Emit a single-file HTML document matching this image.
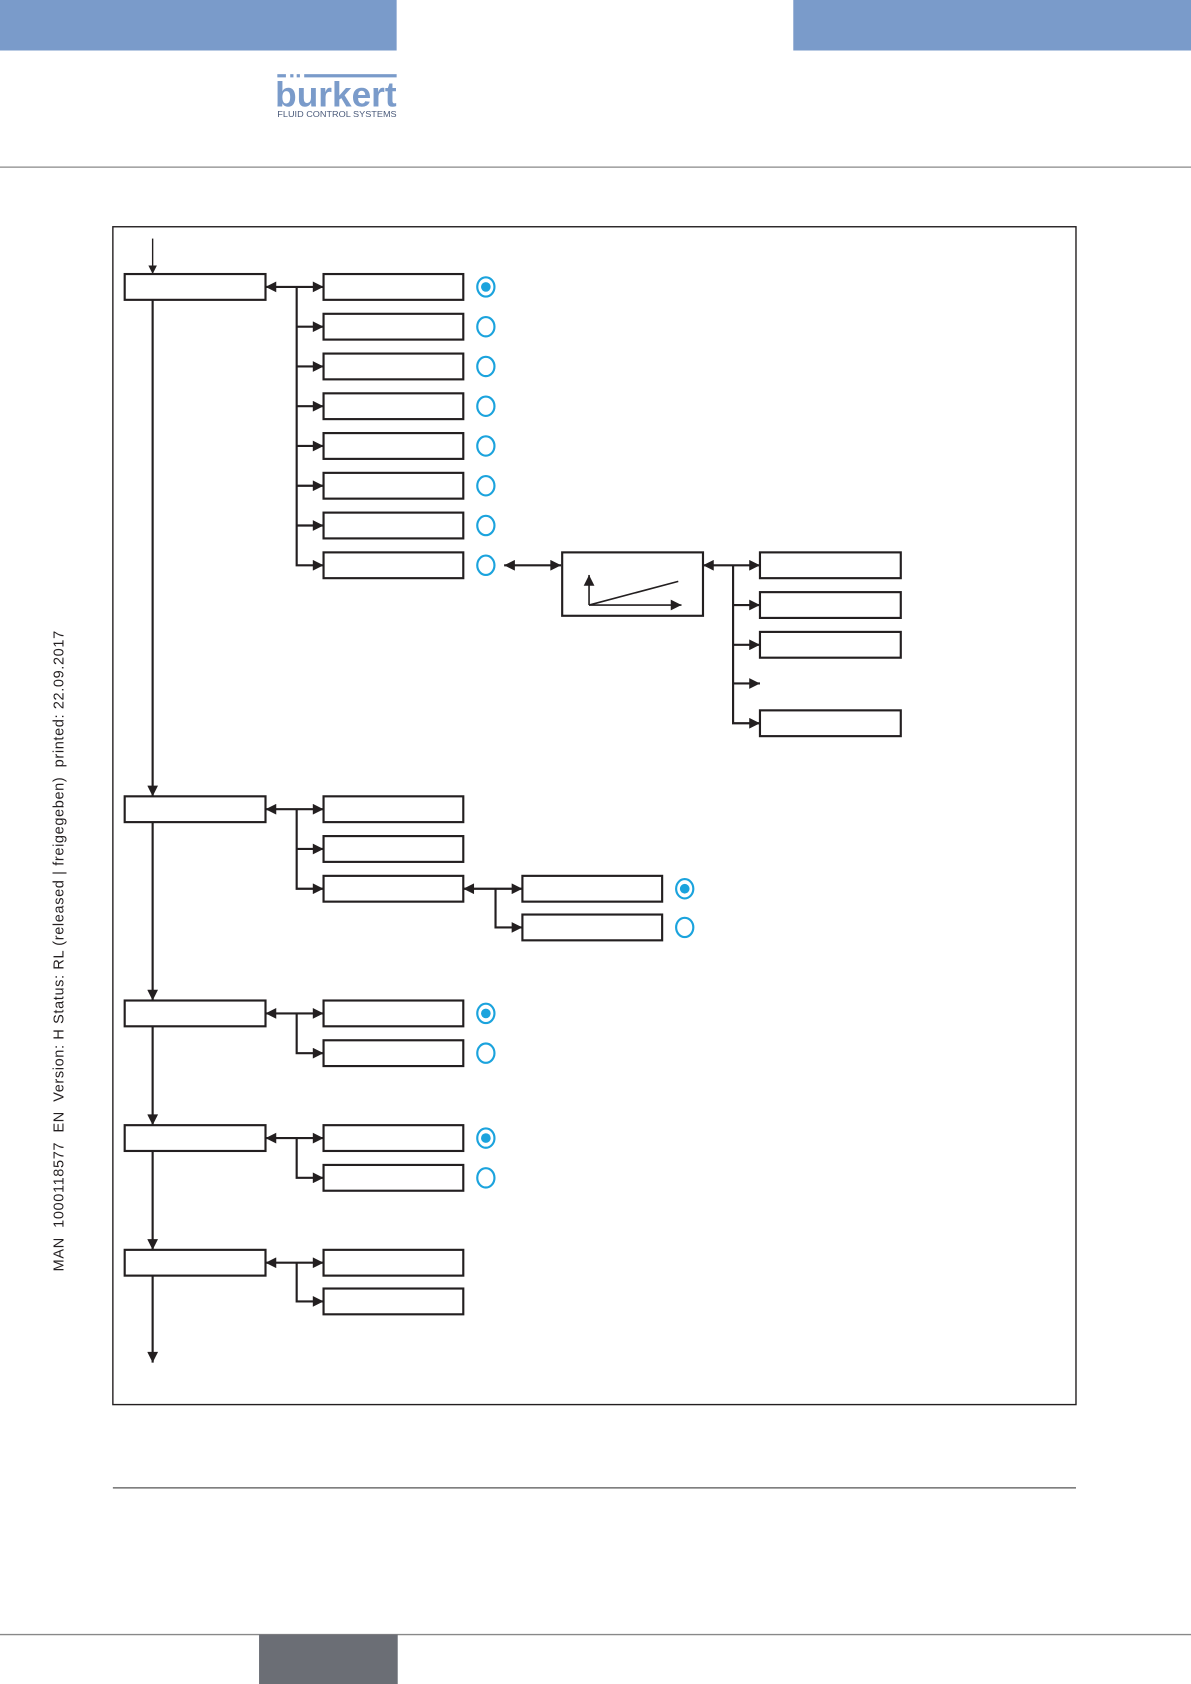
<!DOCTYPE html>
<html><head><meta charset="utf-8"><style>
html,body{margin:0;padding:0;background:#fff}
svg{display:block}
</style></head><body>
<svg width="1191" height="1684" viewBox="0 0 1108 1567" preserveAspectRatio="none" xmlns="http://www.w3.org/2000/svg">
<defs>
<marker id="a" viewBox="0 0 10 10" refX="10" refY="5" markerWidth="8" markerHeight="14" markerUnits="userSpaceOnUse" orient="auto"><path d="M0,0L10,5L0,10z" fill="#231f20"/></marker>
<marker id="b" viewBox="0 0 10 10" refX="10" refY="5" markerWidth="13" markerHeight="10" markerUnits="userSpaceOnUse" orient="auto-start-reverse"><path d="M0,0L10,5L0,10z" fill="#231f20"/></marker>
</defs>
<rect x="0" y="0" width="369" height="47" fill="#7a9bca"/>
<rect x="738" y="0" width="370" height="47" fill="#7a9bca"/>
<rect x="258" y="69" width="8" height="3" fill="#7a9bca"/><rect x="270" y="69" width="3" height="3" fill="#7a9bca"/><rect x="276" y="69" width="3" height="3" fill="#7a9bca"/><rect x="283" y="69" width="86" height="3" fill="#7a9bca"/>
<text x="256" y="99" font-family="Liberation Sans, sans-serif" font-size="33" font-weight="bold" fill="#7a9bca" textLength="113" lengthAdjust="spacingAndGlyphs">burkert</text>
<text x="258" y="109" font-family="Liberation Sans, sans-serif" font-size="7.5" fill="#4a5a7a" textLength="111" lengthAdjust="spacingAndGlyphs">FLUID CONTROL SYSTEMS</text>
<line x1="0" y1="155.5" x2="1108" y2="155.5" stroke="#888" stroke-width="1.2"/>
<rect x="105" y="211" width="896" height="1096" fill="none" stroke="#231f20" stroke-width="1.3"/>
<text transform="translate(59,885) rotate(-90)" text-anchor="middle" font-family="Liberation Sans, sans-serif" font-size="13.5" fill="#231f20" xml:space="preserve" textLength="596" lengthAdjust="spacing">MAN  1000118577  EN  Version: H Status: RL (released | freigegeben)  printed: 22.09.2017</text>
<g stroke="#231f20" stroke-width="2" fill="none">
<line x1="142" y1="222" x2="142" y2="255" stroke-width="1.3" marker-end="url(#a)"/>
<line x1="142" y1="279" x2="142" y2="741" marker-end="url(#b)"/>
<line x1="142" y1="765" x2="142" y2="931" marker-end="url(#b)"/>
<line x1="142" y1="955" x2="142" y2="1047" marker-end="url(#b)"/>
<line x1="142" y1="1071" x2="142" y2="1163" marker-end="url(#b)"/>
<line x1="142" y1="1187" x2="142" y2="1268" marker-end="url(#b)"/>
<rect x="116" y="255" width="131" height="24"/>
<rect x="116" y="741" width="131" height="24"/>
<rect x="116" y="931" width="131" height="24"/>
<rect x="116" y="1047" width="131" height="24"/>
<rect x="116" y="1163" width="131" height="24"/>
<line x1="247" y1="267" x2="301" y2="267" marker-start="url(#b)" marker-end="url(#b)"/>
<polyline points="276,267 276,526 301,526" marker-end="url(#b)"/>
<line x1="276" y1="304" x2="301" y2="304" marker-end="url(#b)"/>
<line x1="276" y1="341" x2="301" y2="341" marker-end="url(#b)"/>
<line x1="276" y1="378" x2="301" y2="378" marker-end="url(#b)"/>
<line x1="276" y1="415" x2="301" y2="415" marker-end="url(#b)"/>
<line x1="276" y1="452" x2="301" y2="452" marker-end="url(#b)"/>
<line x1="276" y1="489" x2="301" y2="489" marker-end="url(#b)"/>
<rect x="301" y="255" width="130" height="24"/>
<rect x="301" y="292" width="130" height="24"/>
<rect x="301" y="329" width="130" height="24"/>
<rect x="301" y="366" width="130" height="24"/>
<rect x="301" y="403" width="130" height="24"/>
<rect x="301" y="440" width="130" height="24"/>
<rect x="301" y="477" width="130" height="24"/>
<rect x="301" y="514" width="130" height="24"/>
<line x1="469" y1="526" x2="522" y2="526" marker-start="url(#b)" marker-end="url(#b)"/>
<rect x="523" y="514" width="131" height="59"/>
<line x1="548" y1="563" x2="548" y2="535" stroke-width="1.5" marker-end="url(#b)"/>
<line x1="548" y1="563" x2="634" y2="563" stroke-width="1.5" marker-end="url(#b)"/>
<line x1="548" y1="563" x2="631" y2="541" stroke-width="1.5"/>
<line x1="654" y1="526" x2="707" y2="526" marker-start="url(#b)" marker-end="url(#b)"/>
<polyline points="682,526 682,673 707,673" marker-end="url(#b)"/>
<line x1="682" y1="563" x2="707" y2="563" marker-end="url(#b)"/>
<line x1="682" y1="600" x2="707" y2="600" marker-end="url(#b)"/>
<line x1="682" y1="636" x2="707" y2="636" marker-end="url(#b)"/>
<rect x="707" y="514" width="131" height="24"/>
<rect x="707" y="551" width="131" height="24"/>
<rect x="707" y="588" width="131" height="24"/>
<rect x="707" y="661" width="131" height="24"/>
<line x1="247" y1="753" x2="301" y2="753" marker-start="url(#b)" marker-end="url(#b)"/>
<polyline points="276,753 276,827 301,827" marker-end="url(#b)"/>
<line x1="276" y1="790" x2="301" y2="790" marker-end="url(#b)"/>
<rect x="301" y="741" width="130" height="24"/>
<rect x="301" y="778" width="130" height="24"/>
<rect x="301" y="815" width="130" height="24"/>
<line x1="431" y1="827" x2="486" y2="827" marker-start="url(#b)" marker-end="url(#b)"/>
<polyline points="461,827 461,863 486,863" marker-end="url(#b)"/>
<rect x="486" y="815" width="130" height="24"/>
<rect x="486" y="851" width="130" height="24"/>
<line x1="247" y1="943" x2="301" y2="943" marker-start="url(#b)" marker-end="url(#b)"/>
<polyline points="276,943 276,980 301,980" marker-end="url(#b)"/>
<rect x="301" y="931" width="130" height="24"/>
<rect x="301" y="968" width="130" height="24"/>
<line x1="247" y1="1059" x2="301" y2="1059" marker-start="url(#b)" marker-end="url(#b)"/>
<polyline points="276,1059 276,1096 301,1096" marker-end="url(#b)"/>
<rect x="301" y="1047" width="130" height="24"/>
<rect x="301" y="1084" width="130" height="24"/>
<line x1="247" y1="1175" x2="301" y2="1175" marker-start="url(#b)" marker-end="url(#b)"/>
<polyline points="276,1175 276,1211 301,1211" marker-end="url(#b)"/>
<rect x="301" y="1163" width="130" height="24"/>
<rect x="301" y="1199" width="130" height="24"/>
</g>
<g stroke="#1ba3dd" stroke-width="2" fill="#fff">
<ellipse cx="452" cy="267" rx="8" ry="9"/><ellipse cx="452" cy="304" rx="8" ry="9"/><ellipse cx="452" cy="341" rx="8" ry="9"/><ellipse cx="452" cy="378" rx="8" ry="9"/><ellipse cx="452" cy="415" rx="8" ry="9"/><ellipse cx="452" cy="452" rx="8" ry="9"/><ellipse cx="452" cy="489" rx="8" ry="9"/><ellipse cx="452" cy="526" rx="8" ry="9"/>
<ellipse cx="637" cy="827" rx="8" ry="9"/><ellipse cx="637" cy="863" rx="8" ry="9"/>
<ellipse cx="452" cy="943" rx="8" ry="9"/><ellipse cx="452" cy="980" rx="8" ry="9"/>
<ellipse cx="452" cy="1059" rx="8" ry="9"/><ellipse cx="452" cy="1096" rx="8" ry="9"/>
</g>
<g fill="#1ba3dd">
<circle cx="452" cy="267" r="4.5"/><circle cx="637" cy="827" r="4.5"/><circle cx="452" cy="943" r="4.5"/><circle cx="452" cy="1059" r="4.5"/>
</g>
<line x1="105" y1="1384.5" x2="1001" y2="1384.5" stroke="#555" stroke-width="1.2"/>
<line x1="0" y1="1521" x2="1108" y2="1521" stroke="#888" stroke-width="1.2"/>
<rect x="241" y="1521" width="129" height="47" fill="#6b6e75"/>
</svg>
</body></html>
